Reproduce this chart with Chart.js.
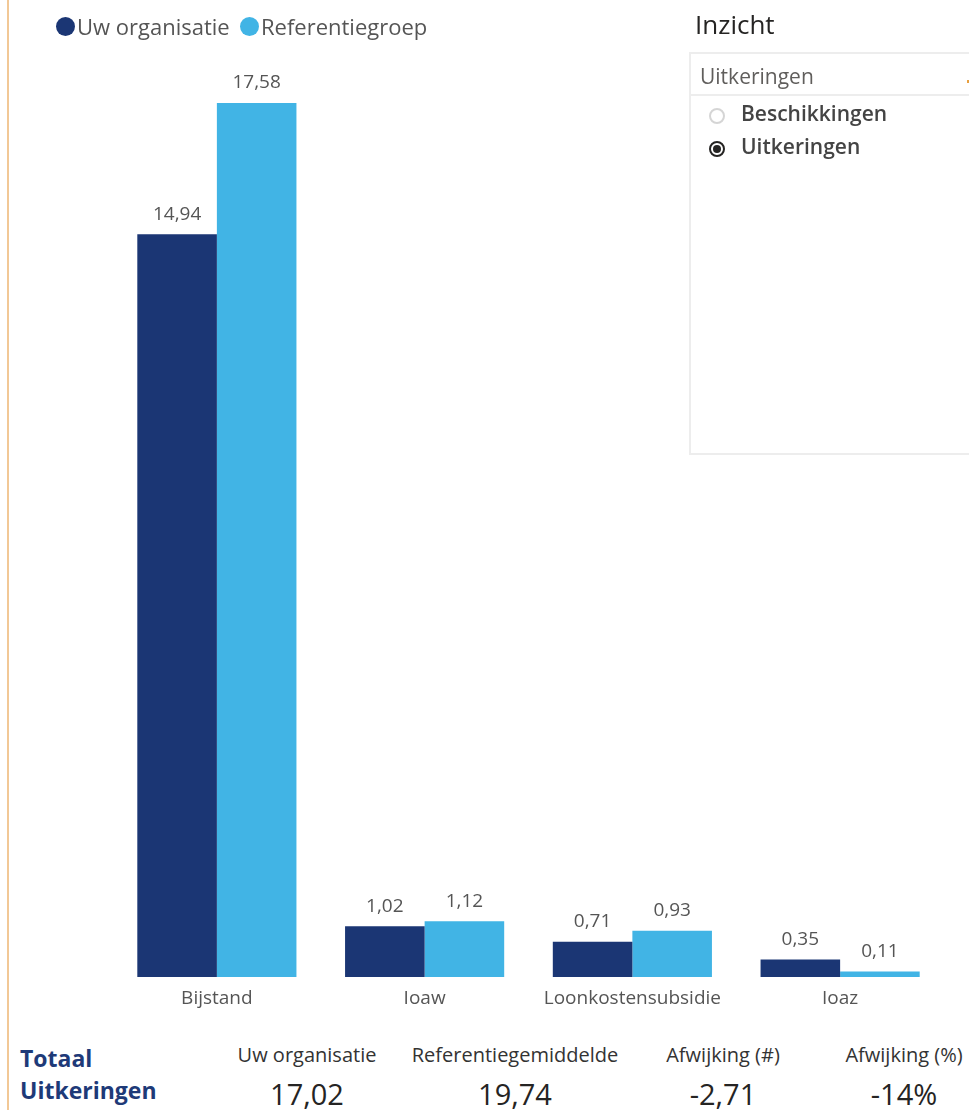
<!DOCTYPE html>
<html>
<head>
<meta charset="utf-8">
<script src="https://cdn.jsdelivr.net/npm/chart.js@4/dist/chart.umd.min.js"></script>
<style>
  html, body { margin:0; padding:0; background:#fff; }
  body { width:969px; height:1110px; position:relative; overflow:hidden; font-family:"Open Sans", sans-serif; }
  #vline { position:absolute; left:7px; top:0; width:2px; height:1110px; background:#F2C896; }
  #chartWrap { position:absolute; left:0; top:0; width:969px; height:1030px; }
  .leg { position:absolute; top:12px; font-size:22px; color:#555; white-space:nowrap; line-height:28px; }
  .dot { position:absolute; width:19px; height:19px; border-radius:50%; top:17px; }
  #slicerTitle { position:absolute; left:695px; top:6px; font-size:26px; color:#252423; }
  #slicer { position:absolute; left:689px; top:52px; width:300px; height:399px; border:2px solid #EDEDED; background:#fff; }
  #slHead { position:absolute; left:0; top:0; width:100%; height:40px; border-bottom:2px solid #EDEDED; }
  #slHeadTxt { position:absolute; left:9px; top:8px; font-size:21px; color:#605E5C; }
  .opt { position:absolute; left:50px; font-size:21px; font-weight:600; color:#444; }
  .radio { position:absolute; left:18px; width:12px; height:12px; border-radius:50%; border:2px solid #d5d5d5; background:#fff; }
  .radio.sel { border-color:#252423; }
  .radio.sel::after { content:""; position:absolute; left:2px; top:2px; width:8px; height:8px; border-radius:50%; background:#252423; }
  #tot { position:absolute; left:20px; top:1042px; font-size:23px; font-weight:700; color:#1E3A78; line-height:32px; }
  .kh { position:absolute; top:1041px; font-size:20px; color:#333; white-space:nowrap; transform:translateX(-50%); }
  .kv { position:absolute; top:1074px; font-size:29px; color:#252423; white-space:nowrap; transform:translateX(-50%); }
</style>
</head>
<body>
<div id="vline"></div>
<div id="chartWrap"><canvas id="c" width="969" height="1030"></canvas></div>

<div class="dot" style="left:56px;background:#1B3674"></div>
<div class="leg" style="left:77px">Uw organisatie</div>
<div class="dot" style="left:240px;background:#41B4E5"></div>
<div class="leg" style="left:261px">Referentiegroep</div>

<div id="slicerTitle">Inzicht</div>
<div id="slicer">
  <div id="slHead"><div id="slHeadTxt">Uitkeringen</div><div style="position:absolute;left:276px;top:26px;width:3px;height:3px;background:#E8A040"></div></div>
  <div class="radio" style="top:54px"></div><div class="opt" style="top:45px">Beschikkingen</div>
  <div class="radio sel" style="top:87px"></div><div class="opt" style="top:78px">Uitkeringen</div>
</div>

<div id="tot">Totaal<br>Uitkeringen</div>
<div id="kpis"></div>

<script>
const categories = ["Bijstand", "Ioaw", "Loonkostensubsidie", "Ioaz"];
const uwOrganisatie = [14.94, 1.02, 0.71, 0.35];
const referentiegroep = [17.58, 1.12, 0.93, 0.11];
const seriesNames = ["Uw organisatie", "Referentiegroep"];
const kpiLabels = ["Uw organisatie", "Referentiegemiddelde", "Afwijking (#)", "Afwijking (%)"];
const kpiValues = ["17,02", "19,74", "-2,71", "-14%"];
const kpiCenters = [307, 515, 723, 904];

const kpiDiv = document.getElementById('kpis');
kpiLabels.forEach((l, i) => {
  const h = document.createElement('div'); h.className = 'kh'; h.style.left = kpiCenters[i] + 'px'; h.textContent = l; kpiDiv.appendChild(h);
  const v = document.createElement('div'); v.className = 'kv'; v.style.left = kpiCenters[i] + 'px'; v.textContent = kpiValues[i]; kpiDiv.appendChild(v);
});

const fmt = v => v.toFixed(2).replace('.', ',');

const labelPlugin = {
  id: 'valueLabels',
  afterDatasetsDraw(chart) {
    const ctx = chart.ctx;
    ctx.save();
    ctx.font = '19px "Open Sans"';
    ctx.fillStyle = '#555';
    ctx.textAlign = 'center';
    ctx.textBaseline = 'middle';
    chart.data.datasets.forEach((ds, di) => {
      chart.getDatasetMeta(di).data.forEach((bar, i) => {
        ctx.fillText(fmt(ds.data[i]), bar.x, bar.y - 20);
      });
    });
    ctx.restore();
  }
};

new Chart(document.getElementById('c'), {
  type: 'bar',
  data: {
    labels: categories,
    datasets: [
      { label: seriesNames[0], data: uwOrganisatie, backgroundColor: '#1B3674' },
      { label: seriesNames[1], data: referentiegroep, backgroundColor: '#41B4E5' }
    ]
  },
  options: {
    responsive: false,
    animation: false,
    layout: { padding: { left: 113, right: 25, top: 82, bottom: 13 } },
    datasets: { bar: { barPercentage: 1, categoryPercentage: 0.766 } },
    plugins: { legend: { display: false }, tooltip: { enabled: false } },
    scales: {
      x: {
        grid: { display: false, drawTicks: false },
        border: { display: false },
        ticks: { padding: 10, color: '#555', font: { family: 'Open Sans', size: 19 } },
        afterFit: s => { s.height = 40; }
      },
      y: { display: false, min: 0, max: 18 }
    }
  },
  plugins: [labelPlugin]
});
</script>
</body>
</html>
